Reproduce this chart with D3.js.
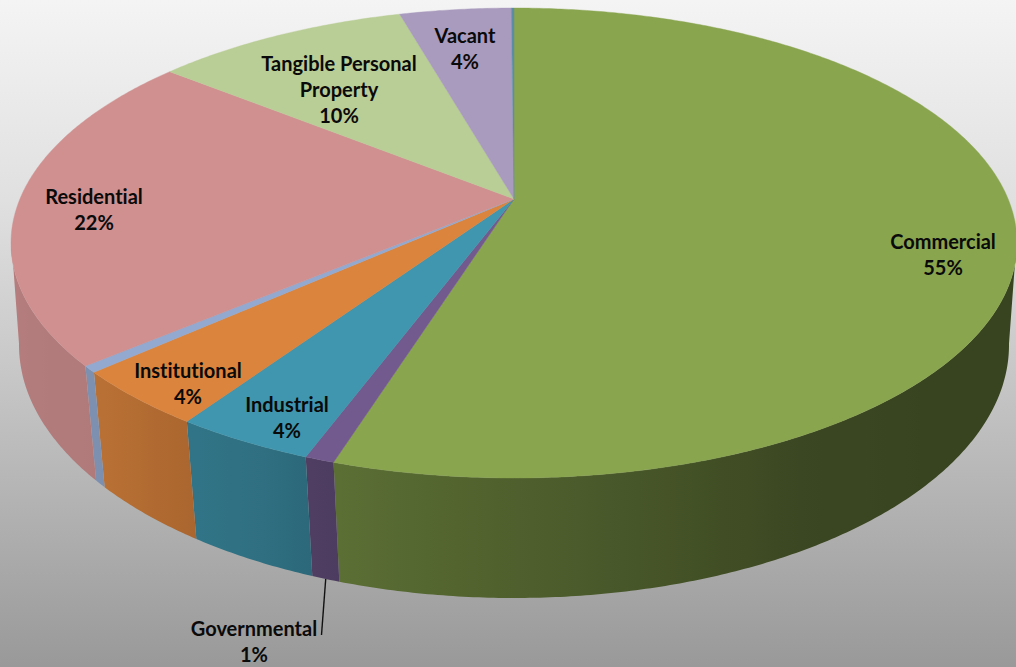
<!DOCTYPE html>
<html><head><meta charset="utf-8">
<script src="https://cdn.jsdelivr.net/npm/d3@7"></script>
<style>html,body{margin:0;padding:0;background:#fff}svg{display:block}</style>
</head><body><svg id="c" width="1016" height="667"></svg>
<script>
// data (clockwise from 12 o'clock)
const categories = ["Commercial","Governmental","Industrial","Institutional","Other","Residential","Tangible Personal Property","Vacant","Sliver"];
const values = [54.85,0.8,3.8,3.9,0.45,22.0,9.8,4.3,0.1];
const percentLabels = ["55%","1%","4%","4%","","22%","10%","4%",""];
const topColors = ["#89a54e","#725a8e","#3f96ae","#db843d","#93a9cf","#d09090","#b9cd96","#a99bbd","#5b8ea6"];
// layout, separate from data
const labelAt = {Commercial:[943,241],Governmental:[254,628],Industrial:[287,404],Institutional:[188,370],Residential:[94,196],"Tangible Personal Property":[339,63],Vacant:[465,35]};
const labelLines = {"Tangible Personal Property":["Tangible Personal","Property"]};

const W=1016,H=667;
const svg=d3.select("#c");
const defs=svg.append("defs");
const bg=defs.append("linearGradient").attr("id","bg").attr("x1",0).attr("y1",0).attr("x2",0).attr("y2",1);
[[0,"#f4f4f4"],[0.3,"#e0e0e0"],[0.55,"#c8c8c8"],[1,"#999999"]].forEach(s=>bg.append("stop").attr("offset",s[0]).attr("stop-color",s[1]));
svg.append("rect").attr("width",W).attr("height",H).attr("fill","url(#bg)");

// perspective projection of the unit circle
function projector(cx,ymid,rx,ry,k){
  const A=rx*Math.sqrt(1-k*k),B=ry*(1-k*k),cy=ymid-ry*k;
  return t=>{const x=Math.sin(t),v=-Math.cos(t),w=1-k*v;return [cx+A*x/w,cy+B*v/w];};
}
const top_=projector(514,243,503,235,0.187);
const low=projector(514,345,495,253,0.17);

const pie=d3.pie().sort(null).startAngle(0).endAngle(2*Math.PI).value(d=>d);
const arcs=pie(values);
const line=d3.line();
const deg=Math.PI/180;
const samples=(a,b,step)=>{const n=Math.max(1,Math.ceil((b-a)/step));return d3.range(n+1).map(i=>a+(b-a)*i/n);};

// side shading by angle
const shade=d3.scaleLinear().domain([0,130,150,198,205,215,229,262,360].map(d=>d*deg)).range([.41,.41,.43,.67,.74,.78,.85,.87,.87]).clamp(true);

const side=svg.append("g"), topG=svg.append("g"), lab=svg.append("g");
arcs.forEach((a,i)=>{
  const s=Math.max(a.startAngle,99.5*deg), e=Math.min(a.endAngle,260.5*deg);
  if(e<=s) return;
  const ts=samples(s,e,.5*deg);
  const c=d3.rgb(topColors[i]);
  const x1=low(s)[0], x2=low(e)[0];
  const g=defs.append("linearGradient").attr("id","side"+i).attr("gradientUnits","userSpaceOnUse")
     .attr("x1",x1).attr("x2",x2).attr("y1",0).attr("y2",0);
  samples(s,e,3*deg).forEach(t=>{
    const f=shade(t);
    g.append("stop").attr("offset",(low(t)[0]-x1)/(x2-x1)).attr("stop-color",d3.rgb(c.r*f,c.g*f,c.b*f).formatHex());
  });
  const pts=[...ts.map(top_),...ts.slice().reverse().map(low)];
  side.append("path").attr("d",line(pts)+"Z").attr("fill",`url(#side${i})`);
});
const apex=[514,199];
arcs.forEach((a,i)=>{
  const pts=[apex,...samples(a.startAngle,a.endAngle,.5*deg).map(top_)];
  topG.append("path").attr("d",line(pts)+"Z").attr("fill",topColors[i]).attr("stroke",topColors[i]).attr("stroke-width",.4);
});
// leader for Governmental
const govMid=(arcs[1].startAngle+arcs[1].endAngle)/2, gp=low(govMid);
lab.append("line").attr("x1",gp[0]).attr("y1",gp[1]).attr("x2",321.5).attr("y2",635).attr("stroke","#111").attr("stroke-width",1.4);
// labels
categories.forEach((c,i)=>{
  if(!labelAt[c])return;
  const ls=(labelLines[c]||[c]).concat(percentLabels[i]);
  const t=lab.append("text").attr("text-anchor","middle").attr("font-family","Lato, sans-serif").attr("font-weight",700).attr("font-size",20).attr("fill","#0a0a0a").style("font-variant-ligatures","none");
  ls.forEach((l,j)=>t.append("tspan").attr("x",labelAt[c][0]).attr("y",labelAt[c][1]+7.5+j*26).text(l));
});
</script></body></html>
